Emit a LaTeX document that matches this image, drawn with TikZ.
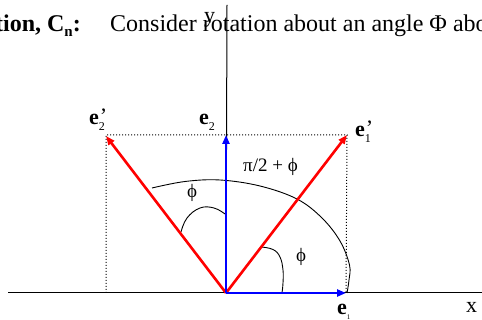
\documentclass[tikz,border=0pt]{standalone}
\usepackage{fontspec}
\setmainfont{Liberation Serif}
\usetikzlibrary{arrows.meta}
\newcommand\vlab[2]{\textbf{e}\rlap{\raisebox{-6pt}{\fontsize{12}{12}\selectfont #1}}\raisebox{1pt}{\kern1pt #2}}
\tikzset{
  axis/.style={line width=1pt,black},
  vecb/.style={line width=2.6pt,blue,-{Triangle[length=9pt,width=7pt]}},
  vecr/.style={line width=2.6pt,red,-{Triangle[length=9pt,width=7pt]}},
  guide/.style={line width=1pt,dotted},
  arcl/.style={line width=0.9pt,black},
  lab/.style={inner sep=0pt,font=\fontsize{22}{23}\selectfont},
  glab/.style={inner sep=0pt,font=\fontsize{19}{20}\selectfont},
  title/.style={inner sep=0pt,font=\fontsize{24}{25}\selectfont}
}
\begin{document}
\begin{tikzpicture}[x=1pt,y=1pt]
\useasboundingbox (0,0) rectangle (482,320);
\clip (0,0) rectangle (482,320);
% title
\node[title,anchor=base east] (t1) at (81,288) {\textbf{tion, C\raisebox{-5pt}{\fontsize{15}{15}\selectfont n}:}};
\node[title,anchor=base west] (t2) at (110,288) {Consider rotation about an angle Φ about};
% coordinates
\coordinate (O) at (226,27);
\coordinate (xl) at (8,27);
\coordinate (xr) at (482,27);
\coordinate (yt) at (227,315);
\coordinate (E1) at (346,27);
\coordinate (E2) at (226,185);
\coordinate (E1p) at (347,185);
\coordinate (E2p) at (106,184);
\coordinate (TL) at (106,185);
\coordinate (BL) at (106,27);
\coordinate (BR) at (346,27);
% axes
\draw[axis] (xl) -- (xr);
\draw[axis] (O) -- (yt);
% dotted guides
\draw[guide] (BL) -- (TL) -- (E1p) -- (BR);
% arcs
\draw[arcl] plot[smooth,tension=0.6] coordinates {(152,132) (185,138.5) (220,140) (260,134) (297,121) (322,102) (340,79) (349.5,55) (349,40) (347,27)};
\draw[arcl] plot[smooth,tension=0.7] coordinates {(181,88) (187,102) (200,112) (214,112) (225,106)};
\draw[arcl] plot[smooth,tension=0.7] coordinates {(261,73) (273,70.5) (280,63) (283,50) (283,37) (282,27)};
% vectors
\draw[vecr] (O) -- (E2p);
\draw[vecr] (O) -- (E1p);
\draw[vecb] (O) -- (E2);
\draw[vecb] (O) -- (E1);
% labels
\node[lab,anchor=base west] (l2p) at (89,195) {\vlab{2}{'}};
\node[lab,anchor=base west] (l2) at (199,195) {\vlab{2}{}};
\node[lab,anchor=base west] (l1p) at (355,183) {\vlab{1}{'}};
\node[lab,anchor=base west] (l1) at (337,5) {\textbf{e}\raisebox{-5pt}{\fontsize{7}{7}\selectfont 1}};
\node[lab,anchor=base west] (lx) at (466,7) {x};
\node[lab,anchor=base west] (ly) at (204,297) {y};
\node[glab,anchor=base west] (lpi) at (243,148) {π/2 + ϕ};
\node[glab] (lphi1) at (192,127) {ϕ};
\node[glab] (lphi2) at (301,63) {ϕ};
\end{tikzpicture}
\end{document}
